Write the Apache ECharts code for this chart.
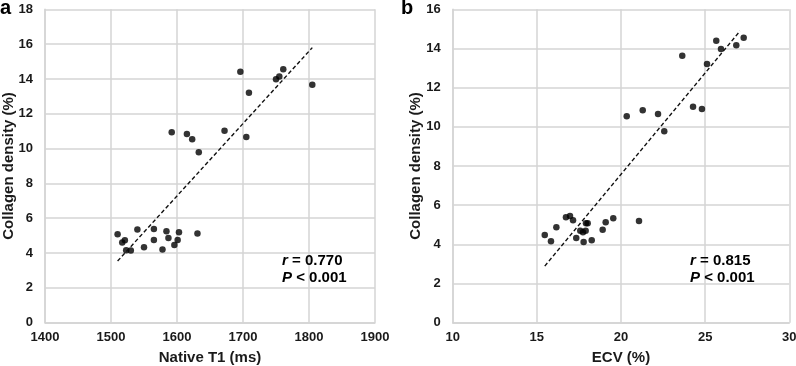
<!DOCTYPE html>
<html>
<head>
<meta charset="utf-8">
<script src="https://cdn.jsdelivr.net/npm/echarts@6/dist/echarts.min.js"></script>
<style>
  html, body { margin: 0; padding: 0; background: #fff; }
  #root { width: 796px; height: 366px; }
</style>
</head>
<body>
<div id="root"></div>
<script>
// panel a: native T1 vs collagen density
const t1Values = [1510, 1517, 1521, 1523, 1530, 1540, 1550, 1565, 1565, 1578, 1584, 1587, 1596, 1601, 1603, 1631,
  1592, 1615, 1623, 1633, 1672, 1696, 1705, 1709, 1750, 1755, 1761, 1805]
const collagenA = [5.08, 4.6, 4.73, 4.16, 4.14, 5.36, 4.33, 5.38, 4.75, 4.21, 5.25, 4.87, 4.46, 4.75, 5.19, 5.13,
  10.94, 10.84, 10.54, 9.79, 11.03, 14.41, 10.67, 13.2, 13.98, 14.14, 14.56, 13.66]
const trendA = [[1510, 3.54], [1805, 15.8]]

// panel b: ECV vs collagen density
const ecvValues = [15.47, 15.84, 16.16, 16.73, 16.97, 17.15, 17.34, 17.58, 17.74, 17.9, 17.78, 17.92, 18.02, 18.26, 18.91, 19.09, 19.54,
  21.07, 20.34, 21.29, 22.2, 22.57, 23.64, 24.28, 24.81, 25.11, 25.66, 25.94, 26.85, 27.29]
const collagenB = [4.48, 4.16, 4.87, 5.38, 5.45, 5.23, 4.32, 4.7, 4.62, 4.7, 4.12, 5.08, 5.08, 4.21, 4.75, 5.13, 5.33,
  5.19, 10.54, 10.84, 10.66, 9.77, 13.63, 11.03, 10.91, 13.21, 14.4, 13.97, 14.16, 14.55]
const trendB = [[15.47, 2.89], [27.07, 14.89]]

const xTicksA = [1400, 1900, 100]
const yTicksA = [0, 18, 2]
const xTicksB = [10, 30, 5]
const yTicksB = [0, 16, 2]

const font = 'Liberation Sans, Arial, sans-serif'
const gridColor = '#d4d4d4'

function pairs (xs, ys) {
  return xs.map((x, i) => [x, ys[i]])
}

function axis (gridIndex, ticks, name, gap, rotate, margin) {
  return {
    type: 'value',
    gridIndex: gridIndex,
    min: ticks[0],
    max: ticks[1],
    interval: ticks[2],
    name: name,
    nameLocation: 'middle',
    nameGap: gap,
    nameRotate: rotate,
    nameMoveOverlap: false,
    nameTextStyle: { fontFamily: font, fontWeight: 'bold', fontSize: 15, color: '#1a1a1a' },
    axisLine: { show: true, lineStyle: { color: gridColor, width: 1.5 } },
    axisTick: { show: false },
    axisLabel: {
      fontFamily: font, fontWeight: 'bold', fontSize: 13, color: '#1a1a1a', margin: margin,
      formatter: v => String(v)
    },
    splitLine: { show: true, lineStyle: { color: gridColor, width: 1.5 } }
  }
}

function dots (xi, yi, data) {
  return {
    type: 'scatter',
    xAxisIndex: xi,
    yAxisIndex: yi,
    data: data,
    symbolSize: 6.5,
    itemStyle: { color: '#000' },
    silent: true
  }
}

function trend (xi, yi, data) {
  return {
    type: 'line',
    xAxisIndex: xi,
    yAxisIndex: yi,
    data: data,
    symbol: 'none',
    lineStyle: { color: '#111', width: 1.4, type: [4, 2.5] },
    silent: true
  }
}

const rich = {
  i: { fontFamily: font, fontWeight: 'bold', fontStyle: 'italic', fontSize: 15, color: '#000', lineHeight: 17.5 },
  n: { fontFamily: font, fontWeight: 'bold', fontSize: 15, color: '#000', lineHeight: 17.5 }
}

const chart = echarts.init(document.getElementById('root'), null, { renderer: 'canvas' })

chart.setOption({
  animation: false,
  grid: [
    { left: 45, right: 421, top: 9.3, bottom: 43.3, outerBoundsMode: 'none' },
    { left: 452.7, right: 6.7, top: 9.3, bottom: 43.3, outerBoundsMode: 'none' }
  ],
  xAxis: [
    axis(0, xTicksA, 'Native T1 (ms)', 28, 0, 8),
    axis(1, xTicksB, 'ECV (%)', 28, 0, 8)
  ],
  yAxis: [
    axis(0, yTicksA, 'Collagen density (%)', 29, 90, 12),
    axis(1, yTicksB, 'Collagen density (%)', 29, 90, 12)
  ],
  title: [
    { text: 'a', left: 0, top: -2, padding: 0, textStyle: { fontFamily: font, fontWeight: 'bold', fontSize: 20, color: '#000' } },
    { text: 'b', left: 401, top: -2, padding: 0, textStyle: { fontFamily: font, fontWeight: 'bold', fontSize: 20, color: '#000' } },
    { text: '{i|r}{n| = 0.770}\n{i|P}{n| < 0.001}', left: 282, top: 252, padding: 0, textStyle: { rich: rich } },
    { text: '{i|r}{n| = 0.815}\n{i|P}{n| < 0.001}', left: 690, top: 252, padding: 0, textStyle: { rich: rich } }
  ],
  series: [
    dots(0, 0, pairs(t1Values, collagenA)),
    trend(0, 0, trendA),
    dots(1, 1, pairs(ecvValues, collagenB)),
    trend(1, 1, trendB)
  ]
})
</script>
</body>
</html>
